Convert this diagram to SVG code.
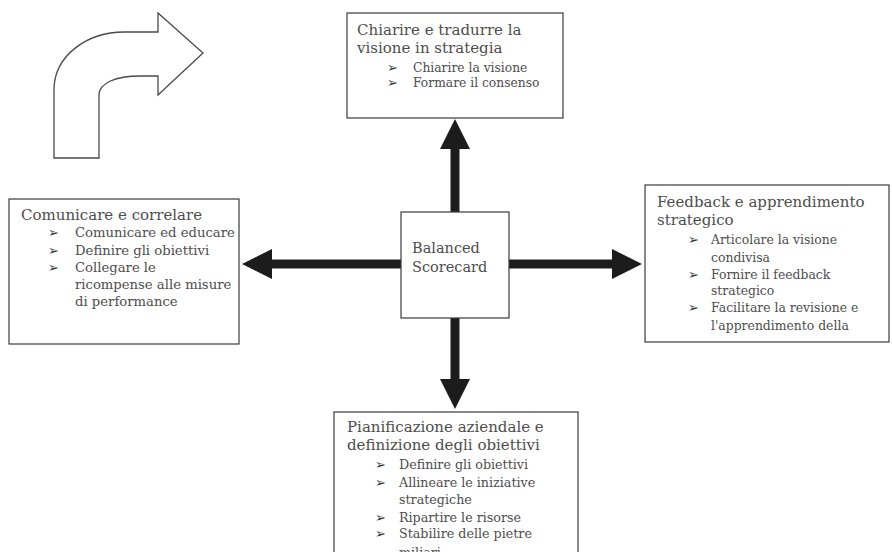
<svg xmlns="http://www.w3.org/2000/svg" width="892" height="552" viewBox="0 0 892 552">
<style>
.box{fill:#fff;stroke:#3a3a3a;stroke-width:1.2}
.t{font-family:"DejaVu Serif","Liberation Serif",serif;font-size:15px;fill:#4d4d4d}
.bl{font-family:"DejaVu Serif","Liberation Serif",serif;fill:#4d4d4d}
.b{font-family:"DejaVu Sans",sans-serif;font-size:13px;fill:#333}
.s1{font-size:12.3px}.s2{font-size:13.2px}.s3{font-size:12.4px}.s4{font-size:12.7px}
.conn{stroke:#1c1c1c;stroke-width:9;fill:none}
</style>
<defs>
<marker id="head" markerUnits="userSpaceOnUse" markerWidth="31" markerHeight="30" refX="1" refY="15" orient="auto">
<path d="M0,0 L30,15 L0,30 Z" fill="#1c1c1c"/>
</marker>
</defs>
<g id="curved-arrow">
<path d="M54,158 L54,90 C54,55 88,32 124,32 L158,32 L158,13 L203,53 L158,95 L158,76 L140,76 C116,76 99,83 99,95 L99,158 Z" fill="#fff" stroke="#4a4a4a" stroke-width="1.3" stroke-linejoin="miter"/>
</g>
<g id="connectors">
<path class="conn" d="M455,212 L455,148" marker-end="url(#head)"/>
<path class="conn" d="M455,318 L455,380" marker-end="url(#head)"/>
<path class="conn" d="M401,264 L271,264" marker-end="url(#head)"/>
<path class="conn" d="M509,264 L613,264" marker-end="url(#head)"/>
</g>
<g id="bsc">
<rect class="box" x="401" y="212" width="108" height="106"/>
<text class="bl" style="font-size:14.5px" x="412" y="253">Balanced</text>
<text class="bl" style="font-size:14.5px" x="412" y="272">Scorecard</text>
</g>
<g id="top">
<rect class="box" x="347" y="13" width="216" height="105"/>
<text class="t" x="357" y="35">Chiarire e tradurre la</text>
<text class="t" x="357" y="53">visione in strategia</text>
<text class="b" x="387" y="72">➢</text><text class="bl s1" x="413" y="72">Chiarire la visione</text>
<text class="b" x="387" y="87">➢</text><text class="bl s1" x="413" y="87">Formare il consenso</text>
</g>
<g id="left">
<rect class="box" x="9" y="199" width="230" height="145"/>
<text class="t" x="21" y="220">Comunicare e correlare</text>
<text class="b" x="48" y="237">➢</text><text class="bl s2" x="75" y="237">Comunicare ed educare</text>
<text class="b" x="48" y="255">➢</text><text class="bl s2" x="75" y="255">Definire gli obiettivi</text>
<text class="b" x="48" y="272">➢</text><text class="bl s2" x="75" y="272">Collegare le</text>
<text class="bl s2" x="75" y="289">ricompense alle misure</text>
<text class="bl s2" x="75" y="306">di performance</text>
</g>
<g id="right">
<rect class="box" x="645" y="185" width="244" height="157"/>
<text class="t" x="657" y="207">Feedback e apprendimento</text>
<text class="t" x="657" y="225">strategico</text>
<text class="b" x="688" y="244">➢</text><text class="bl s3" x="711" y="244">Articolare la visione</text>
<text class="bl s3" x="711" y="262">condivisa</text>
<text class="b" x="688" y="279">➢</text><text class="bl s3" x="711" y="279">Fornire il feedback</text>
<text class="bl s3" x="711" y="295">strategico</text>
<text class="b" x="688" y="312">➢</text><text class="bl s3" x="711" y="312">Facilitare la revisione e</text>
<text class="bl s3" x="711" y="330">l'apprendimento della</text>
</g>
<g id="bottom">
<rect class="box" x="334" y="412" width="244" height="160"/>
<text class="t" x="347" y="432">Pianificazione aziendale e</text>
<text class="t" x="347" y="450">definizione degli obiettivi</text>
<text class="b" x="375" y="469">➢</text><text class="bl s4" x="399" y="469">Definire gli obiettivi</text>
<text class="b" x="375" y="487">➢</text><text class="bl s4" x="399" y="487">Allineare le iniziative</text>
<text class="bl s4" x="399" y="504">strategiche</text>
<text class="b" x="375" y="522">➢</text><text class="bl s4" x="399" y="522">Ripartire le risorse</text>
<text class="b" x="375" y="538">➢</text><text class="bl s4" x="399" y="538">Stabilire delle pietre</text>
<text class="bl s4" x="399" y="557">miliari</text>
</g>
</svg>
